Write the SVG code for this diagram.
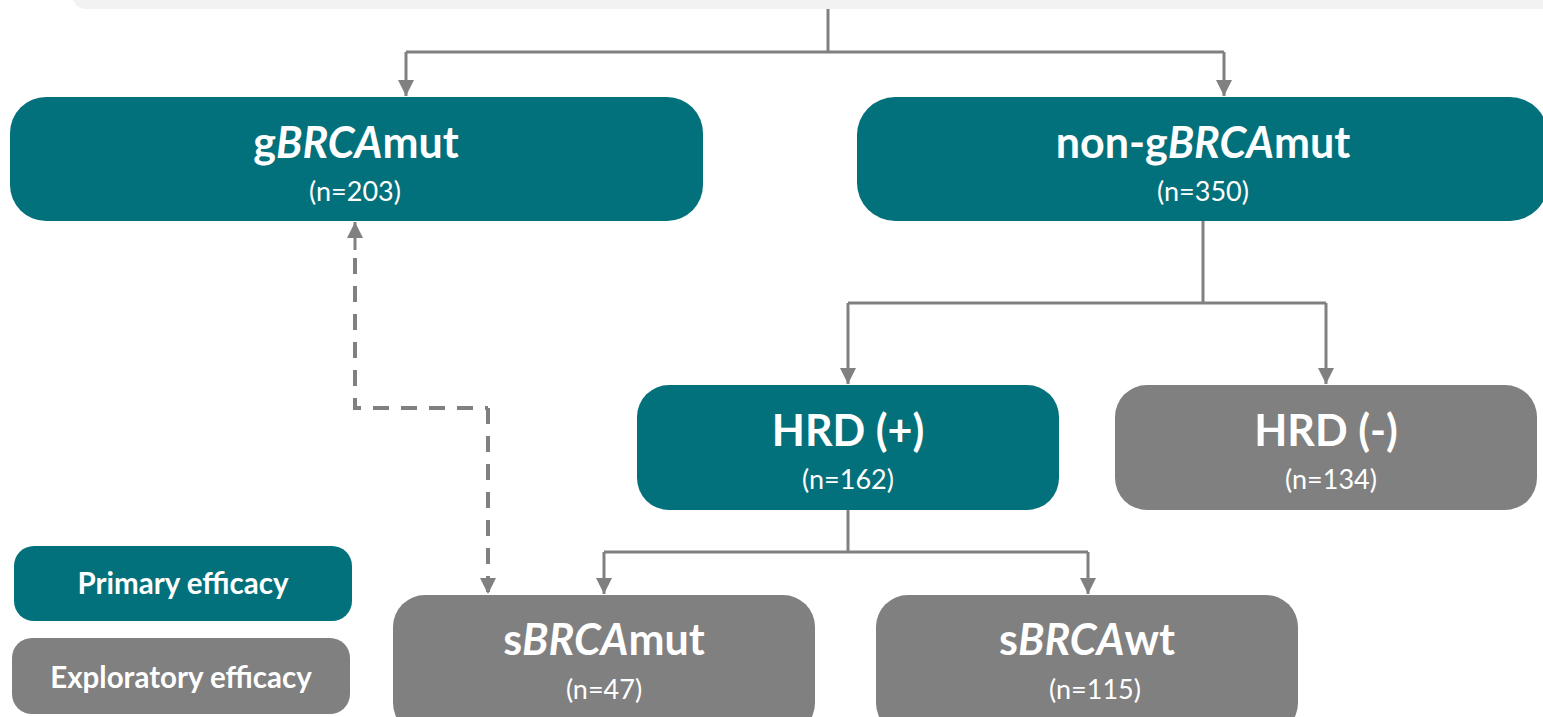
<svg xmlns="http://www.w3.org/2000/svg" width="1543" height="717" viewBox="0 0 1543 717">
  <style>
    .primary { fill: #03717b; }
    .explor { fill: #808080; }
    .title { font-family: Lato, "Liberation Sans", sans-serif; font-weight: bold; font-size: 43px; fill: #ffffff; text-anchor: middle; }
    .count { font-family: Lato, "Liberation Sans", sans-serif; font-size: 27px; fill: #ffffff; text-anchor: middle; }
    .legend { font-family: Lato, "Liberation Sans", sans-serif; font-weight: bold; font-size: 29.5px; fill: #ffffff; text-anchor: middle; }
    .link { fill: none; stroke: #808080; stroke-width: 3; }
    .dash { fill: none; stroke: #808080; stroke-width: 4; stroke-dasharray: 16 12; }
  </style>
  <defs>
    <marker id="arrow" markerUnits="userSpaceOnUse" markerWidth="16" markerHeight="16" viewBox="0 0 16 16" refX="16" refY="8" orient="auto">
      <path d="M0,0 L16,8 L0,16 Z" fill="#808080"/>
    </marker>
  </defs>

  <rect width="1543" height="717" fill="#ffffff"/>

  <!-- header panel running off the top edge -->
  <rect x="72" y="-40" width="1520" height="49" rx="14" fill="#f2f2f2"/>

  <g id="connectors">
    <polyline class="link" points="828,9 828,52"/>
    <polyline class="link" points="406,52 1224,52"/>
    <polyline class="link" points="406,52 406,96" marker-end="url(#arrow)"/>
    <polyline class="link" points="1224,52 1224,96" marker-end="url(#arrow)"/>
    <polyline class="link" points="1203,221 1203,303"/>
    <polyline class="link" points="848,303 1326,303"/>
    <polyline class="link" points="848,303 848,384" marker-end="url(#arrow)"/>
    <polyline class="link" points="1326,303 1326,384" marker-end="url(#arrow)"/>
    <polyline class="link" points="848,510 848,552"/>
    <polyline class="link" points="604,552 1088,552"/>
    <polyline class="link" points="604,552 604,594" marker-end="url(#arrow)"/>
    <polyline class="link" points="1088,552 1088,594" marker-end="url(#arrow)"/>
    <polyline class="dash" points="355,258 355,408 488,408"/>
    <polyline class="dash" points="488,408 488,594" marker-end="url(#arrow)"/>
    <polyline class="link" points="355,250 355,222" marker-end="url(#arrow)"/>
  </g>

  <g id="gbrca-mut">
    <rect class="primary" x="10" y="97" width="693" height="124" rx="36"/>
    <text class="title" x="356" y="158">g<tspan font-style="italic">BRCA</tspan>mut</text>
    <text class="count" x="355" y="201">(n=203)</text>
  </g>

  <g id="non-gbrca-mut">
    <rect class="primary" x="857" y="97" width="691" height="124" rx="38"/>
    <text class="title" x="1203" y="158">non-g<tspan font-style="italic">BRCA</tspan>mut</text>
    <text class="count" x="1203" y="201">(n=350)</text>
  </g>

  <g id="hrd-pos">
    <rect class="primary" x="637" y="385" width="422" height="125" rx="32"/>
    <text class="title" x="848" y="446">HRD (+)</text>
    <text class="count" x="848" y="489">(n=162)</text>
  </g>

  <g id="hrd-neg">
    <rect class="explor" x="1115" y="385" width="422" height="125" rx="32"/>
    <text class="title" x="1326" y="446">HRD (-)</text>
    <text class="count" x="1331" y="489">(n=134)</text>
  </g>

  <g id="sbrca-mut">
    <rect class="explor" x="393" y="595" width="422" height="140" rx="32"/>
    <text class="title" x="604" y="655">s<tspan font-style="italic">BRCA</tspan>mut</text>
    <text class="count" x="604" y="699">(n=47)</text>
  </g>

  <g id="sbrca-wt">
    <rect class="explor" x="876" y="595" width="422" height="140" rx="32"/>
    <text class="title" x="1087" y="655">s<tspan font-style="italic">BRCA</tspan>wt</text>
    <text class="count" x="1095" y="699">(n=115)</text>
  </g>

  <g id="legend-primary">
    <rect class="primary" x="14" y="546" width="338" height="75" rx="20"/>
    <text class="legend" x="183" y="594">Primary efficacy</text>
  </g>

  <g id="legend-exploratory">
    <rect class="explor" x="12" y="638" width="338" height="76" rx="20"/>
    <text class="legend" x="181" y="688">Exploratory efficacy</text>
  </g>
</svg>
